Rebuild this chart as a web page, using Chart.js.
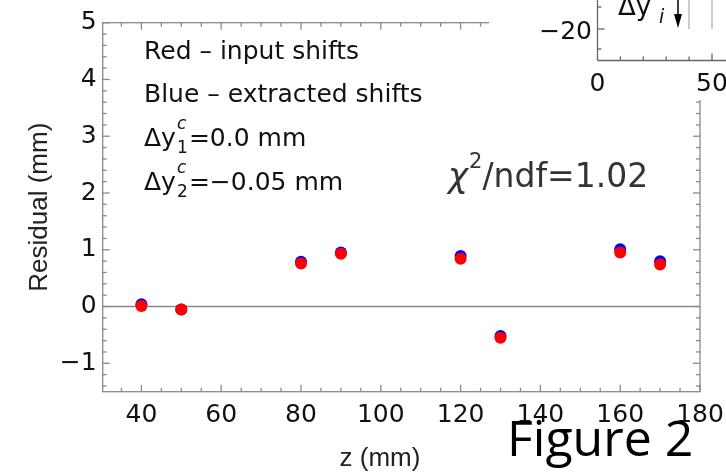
<!DOCTYPE html>
<html><head><meta charset="utf-8">
<script src="https://cdn.jsdelivr.net/npm/chart.js@4.4.1/dist/chart.umd.min.js"></script>
<style>html,body{margin:0;padding:0;background:#fff;}#wrap{width:726px;height:475px;}</style>
</head><body><div id="wrap"><canvas id="c" width="726" height="475"></canvas></div>
<script>
// ---- data ----
const zPositions = [40, 50, 80, 90, 120, 130, 160, 170];
const inputShifts = [0.01, -0.05, 0.76, 0.93, 0.84, -0.55, 0.95, 0.74];      // red
const extractedShifts = [0.04, -0.05, 0.79, 0.95, 0.89, -0.52, 1.01, 0.80];  // blue
const xTickValues = [40, 60, 80, 100, 120, 140, 160, 180];
const yTickValues = [-1, 0, 1, 2, 3, 4, 5];
const xMinorStep = 5;
const yMinorStep = 0.2;
const xTitle = 'z (mm)';
const noteLines = ['Red \u2013 input shifts', 'Blue \u2013 extracted shifts'];
const constraintLabels = [{sub: '1', val: '=0.0 mm'}, {sub: '2', val: '=\u22120.05 mm'}];
const fitText = {pre: '\u03C7', sup: '2', post: '/ndf=1.02'};
const figureLabel = 'Figure 2';

const FONT = 'DejaVu Sans';
const TITLE_FONT = 'Liberation Sans';
const GRAY = '#8a8a8a';
const fmt = v => v < 0 ? '\u2212' + Math.abs(v) : String(v);

function line(ctx, x1, y1, x2, y2) { ctx.beginPath(); ctx.moveTo(x1, y1); ctx.lineTo(x2, y2); ctx.stroke(); }

const framePlugin = {
  id: 'frame',
  beforeDatasetsDraw(chart) {
    const {ctx, chartArea: a, scales: {x, y}} = chart;
    ctx.save();
    ctx.strokeStyle = GRAY;
    ctx.lineWidth = 1.6;
    const y0 = y.getPixelForValue(0);
    line(ctx, a.left, y0, a.right, y0);
    ctx.lineWidth = 1.3;
    ctx.strokeRect(a.left, a.top, a.right - a.left, a.bottom - a.top);
    for (let k = Math.ceil(x.min / xMinorStep); k * xMinorStep <= x.max + 1e-9; k++) {
      const v = k * xMinorStep, px = x.getPixelForValue(v);
      const len = xTickValues.includes(v) ? 7 : 4;
      line(ctx, px, a.bottom, px, a.bottom - len);
      line(ctx, px, a.top, px, a.top + len);
    }
    for (let k = Math.ceil(y.min / yMinorStep - 1e-9); k * yMinorStep <= y.max + 1e-9; k++) {
      const v = k * yMinorStep, py = y.getPixelForValue(v);
      const len = Math.abs(v - Math.round(v)) < 1e-6 ? 7 : 4;
      line(ctx, a.left, py, a.left + len, py);
      line(ctx, a.right, py, a.right - len, py);
    }
    ctx.restore();
  }
};

const textPlugin = {
  id: 'texts',
  afterDatasetsDraw(chart) {
    const {ctx} = chart;
    ctx.save();
    ctx.fillStyle = '#111';
    ctx.textBaseline = 'alphabetic';
    ctx.textAlign = 'left';
    ctx.font = `25px "${FONT}"`;
    const x0 = 144;
    const baselines = [59, 102, 146, 190];
    noteLines.forEach((t, i) => ctx.fillText(t, x0, baselines[i]));
    constraintLabels.forEach((c, i) => {
      const b = baselines[i + 2];
      ctx.font = `25px "${FONT}"`;
      ctx.fillText('\u0394y', x0, b);
      let xx = x0 + ctx.measureText('\u0394y').width + 1;
      ctx.font = `italic 17px "${FONT}"`;
      ctx.fillText('c', xx, b - 17);
      ctx.font = `17px "${FONT}"`;
      ctx.fillText(c.sub, xx, b + 7);
      xx += 12;
      ctx.font = `25px "${FONT}"`;
      ctx.fillText(c.val, xx, b);
    });
    // x axis title
    ctx.fillStyle = '#222';
    ctx.font = `26px "${TITLE_FONT}"`;
    ctx.textAlign = 'center';
    ctx.fillText(xTitle, 380, 466);
    ctx.textAlign = 'left';
    // chi2 text
    ctx.fillStyle = '#333';
    let cx = 448;
    const cb = 187;
    ctx.font = `italic 34px "${FONT}"`;
    ctx.fillText(fitText.pre, cx, cb);
    cx += ctx.measureText(fitText.pre).width + 1;
    ctx.font = `21px "${FONT}"`;
    ctx.fillText(fitText.sup, cx, cb - 19);
    cx += ctx.measureText(fitText.sup).width;
    ctx.font = `33px "${FONT}"`;
    ctx.fillText(fitText.post, cx, cb);
    // Figure label
    ctx.fillStyle = '#000';
    ctx.font = '50px "Open Sans"';
    ctx.fillText(figureLabel, 507, 456);

    // inset fragment (top-right corner of another figure)
    ctx.fillStyle = '#fff';
    ctx.fillRect(489, 0, 237, 100);
    ctx.strokeStyle = '#666';
    ctx.lineWidth = 1.3;
    const L = 597.5, B = 60.5;
    line(ctx, L, 0, L, B);
    line(ctx, L, B, 726, B);
    [[7, 4], [29, 7], [49, 4]].forEach(([py, len]) => line(ctx, L, py, L + len, py));
    for (let i = 1; i <= 5; i++) {
      const px = L + i * 22.9;
      line(ctx, px, B, px, B - (i === 5 ? 7 : 4));
    }
    ctx.strokeStyle = '#b0b0b0';
    line(ctx, 689, 0, 689, 29);
    line(ctx, 712, 0, 712, 29);
    ctx.strokeStyle = '#000';
    ctx.lineWidth = 1.5;
    line(ctx, 678, 0, 678, 20);
    ctx.fillStyle = '#000';
    ctx.beginPath(); ctx.moveTo(674, 14); ctx.lineTo(682, 14); ctx.lineTo(678, 28); ctx.closePath(); ctx.fill();
    ctx.fillStyle = '#111';
    ctx.font = `26px "${FONT}"`;
    ctx.fillText('\u0394y', 618, 15);
    ctx.font = `italic 19px "${FONT}"`;
    ctx.fillText('i', 659, 23);
    ctx.font = `25px "${FONT}"`;
    ctx.textAlign = 'right';
    ctx.fillText('\u221220', 592, 39);
    ctx.textAlign = 'center';
    ctx.fillText('0', 597.5, 91);
    ctx.fillText('50', 712, 91);
    ctx.restore();
  }
};

new Chart(document.getElementById('c'), {
  type: 'scatter',
  data: {
    datasets: [
      {label: 'input shifts', data: zPositions.map((z, i) => ({x: z, y: inputShifts[i]})),
       backgroundColor: '#ff0000', pointRadius: 6, pointBorderWidth: 0, pointHoverRadius: 6},
      {label: 'extracted shifts', data: zPositions.map((z, i) => ({x: z, y: extractedShifts[i]})),
       backgroundColor: '#0000ff', pointRadius: 6, pointBorderWidth: 0, pointHoverRadius: 6}
    ]
  },
  options: {
    responsive: false, animation: false, devicePixelRatio: 1,
    events: [],
    layout: {padding: {top: 22.7, right: 26, left: 0, bottom: 0}},
    plugins: {legend: {display: false}, tooltip: {enabled: false}},
    scales: {
      x: {
        type: 'linear', min: 30.3, max: 180,
        afterBuildTicks: s => { s.ticks = xTickValues.map(v => ({value: v})); },
        afterFit: s => { s.height = 83.3; s.paddingLeft = 0; s.paddingRight = 0; },
        grid: {display: false, drawTicks: false}, border: {display: false},
        ticks: {font: {family: FONT, size: 25}, color: '#111', padding: 9, maxRotation: 0, autoSkip: false, callback: fmt},
        title: {display: false}
      },
      y: {
        type: 'linear', min: -1.5, max: 5,
        afterBuildTicks: s => { s.ticks = yTickValues.map(v => ({value: v})); },
        afterFit: s => { s.width = 102.7; s.paddingTop = 0; s.paddingBottom = 0; },
        grid: {display: false, drawTicks: false}, border: {display: false},
        ticks: {font: {family: FONT, size: 25}, color: '#111', padding: 6, autoSkip: false, callback: fmt},
        title: {display: true, text: 'Residual (mm)', font: {family: TITLE_FONT, size: 26}, color: '#222', padding: {top: 24, bottom: 0}}
      }
    }
  },
  plugins: [framePlugin, textPlugin]
});
</script></body></html>
